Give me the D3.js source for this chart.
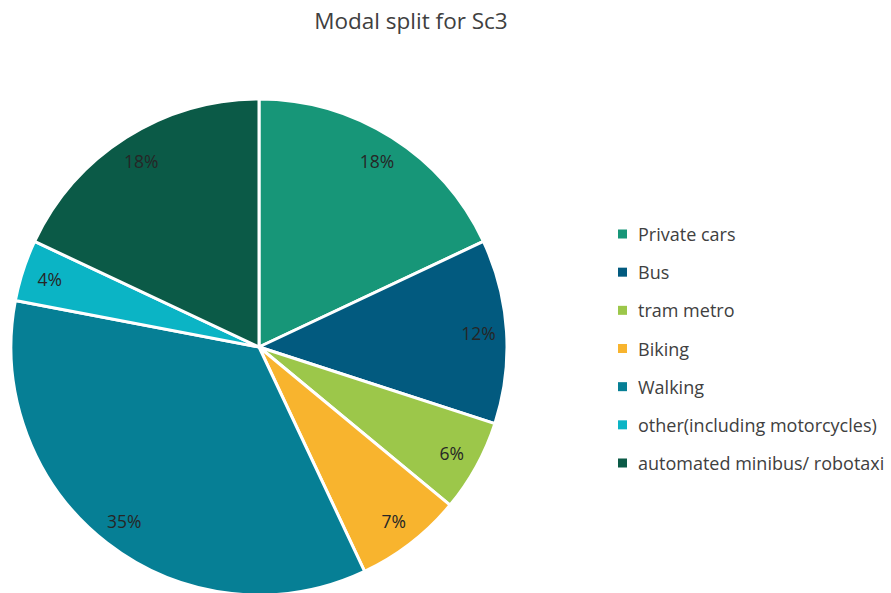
<!DOCTYPE html>
<html>
<head>
<meta charset="utf-8">
<script src="https://cdn.jsdelivr.net/npm/d3@7/dist/d3.min.js"></script>
<style>
  html, body { margin: 0; padding: 0; background: #fff; }
  svg { display: block; font-family: "Open Sans", "Noto Sans", sans-serif; }
</style>
</head>
<body>
<svg id="chart" width="891" height="593"></svg>
<script>
// Modal split shares (percent) for scenario 3
const categories = [
  "Private cars",
  "Bus",
  "tram metro",
  "Biking",
  "Walking",
  "other(including motorcycles)",
  "automated minibus/ robotaxi"
];
const shares = [18, 12, 6, 7, 35, 4, 18];
const colors = ["#179678", "#025a7f", "#9cc74a", "#f8b42e", "#067f95", "#0bb4c5", "#0b5a47"];
const title = "Modal split for Sc3";

const svg = d3.select("#chart");
const cx = 259, cy = 347, radius = 248;

const data = categories.map((c, i) => ({ name: c, value: shares[i], color: colors[i] }));

const pie = d3.pie().value(d => d.value).sort(null);
const arc = d3.arc().innerRadius(0).outerRadius(radius);
const labelArc = d3.arc().innerRadius(220).outerRadius(220);
const total = d3.sum(shares);

const g = svg.append("g").attr("transform", `translate(${cx},${cy})`);
const arcs = pie(data);

g.selectAll("path.slice")
  .data(arcs)
  .join("path")
  .attr("class", "slice")
  .attr("d", arc)
  .attr("fill", d => d.data.color)
  .attr("stroke", "#fff")
  .attr("stroke-width", 3)
  .attr("stroke-linejoin", "round");

g.selectAll("text.pct")
  .data(arcs)
  .join("text")
  .attr("class", "pct")
  .attr("transform", d => `translate(${labelArc.centroid(d)})`)
  .attr("text-anchor", "middle")
  .attr("dominant-baseline", "central")
  .attr("font-size", 17.5)
  .attr("fill", "#262626")
  .text(d => Math.round(d.data.value / total * 100) + "%");

// Title
svg.append("text")
  .attr("x", 411)
  .attr("y", 20)
  .attr("text-anchor", "middle")
  .attr("dominant-baseline", "central")
  .attr("font-size", 22.5)
  .attr("fill", "#404040")
  .text(title);

// Legend
const legendY = d3.scalePoint().domain(categories).range([234, 463]);
const legend = svg.append("g");
const items = legend.selectAll("g.item")
  .data(data)
  .join("g")
  .attr("class", "item")
  .attr("transform", d => `translate(618,${legendY(d.name)})`);

items.append("rect")
  .attr("x", 0).attr("y", -4.5)
  .attr("width", 9).attr("height", 9)
  .attr("fill", d => d.color);

items.append("text")
  .attr("x", 20)
  .attr("y", 0)
  .attr("dominant-baseline", "central")
  .attr("font-size", 18)
  .attr("fill", "#404040")
  .text(d => d.name);
</script>
</body>
</html>
